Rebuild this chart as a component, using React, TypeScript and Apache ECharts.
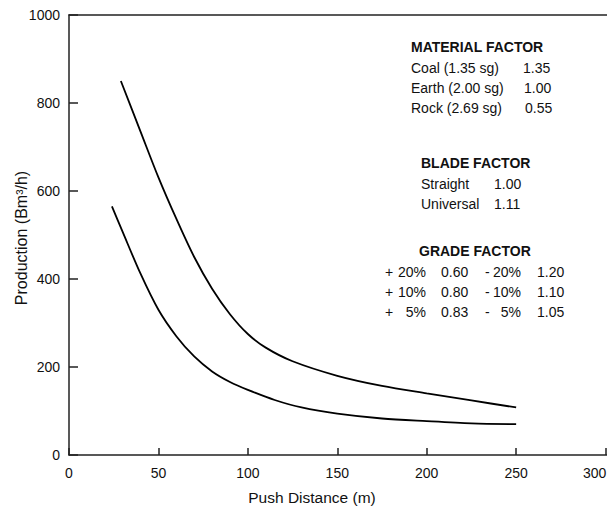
import React, { useEffect, useRef } from "react";
import * as echarts from "echarts";

const distance500 = [29, 40, 50, 60, 70, 80, 90, 100, 110, 125, 150, 175, 200, 225, 250];
const production500 = [850, 735, 631, 537, 450, 378, 320, 275, 244, 213, 180, 157, 140, 124, 108];
const distance300 = [24, 30, 40, 50, 60, 70, 80, 90, 100, 115, 130, 150, 175, 200, 225, 250];
const production300 = [565, 507, 412, 330, 270, 224, 190, 166, 148, 125, 108, 94, 83, 77, 72, 70];

const xTicks = [0, 50, 100, 150, 200, 250, 300];
const yTicks = [0, 200, 400, 600, 800, 1000];

const materialRows = [
  ["Coal (1.35 sg)", "1.35"],
  ["Earth (2.00 sg)", "1.00"],
  ["Rock (2.69 sg)", "0.55"],
];
const bladeRows = [
  ["Straight", "1.00"],
  ["Universal", "1.11"],
];
const gradeRows = [
  ["+", "20%", "0.60", "-", "20%", "1.20"],
  ["+", "10%", "0.80", "-", "10%", "1.10"],
  ["+", "5%", "0.83", "-", "5%", "1.05"],
];

const FONT = "'Liberation Sans', Arial, Helvetica, sans-serif";
const INK = "#111";

function makeData(xs: number[], ys: number[], label: string) {
  return xs.map((x, i) =>
    i === 0
      ? {
          value: [x, ys[i]],
          label: {
            show: true,
            position: "top",
            distance: 9,
            formatter: label,
            color: INK,
            fontFamily: FONT,
            fontSize: 14,
          },
        }
      : { value: [x, ys[i]] }
  );
}

function txt(text: string, x: number, y: number, opts: any = {}) {
  return {
    type: "text",
    x,
    y,
    rotation: opts.rotation || 0,
    silent: true,
    style: {
      text,
      fill: INK,
      font: `${opts.bold ? "bold " : ""}${opts.size || 14}px ${FONT}`,
      align: opts.align || "left",
      verticalAlign: "middle",
    },
  };
}

export default function App() {
  const ref = useRef<HTMLDivElement>(null);
  useEffect(() => {
    if (!ref.current) return;
    const chart = echarts.init(ref.current, undefined, { renderer: "svg" });

    const graphics: any[] = [];
    graphics.push(txt("MATERIAL FACTOR", 411, 47, { bold: true }));
    const matValX = [523, 524, 525];
    materialRows.forEach((r, i) => {
      graphics.push(txt(r[0], 411, 68 + i * 20));
      graphics.push(txt(r[1], matValX[i], 68 + i * 20));
    });
    graphics.push(txt("BLADE FACTOR", 421, 163, { bold: true }));
    bladeRows.forEach((r, i) => {
      graphics.push(txt(r[0], 421, 184 + i * 20));
      graphics.push(txt(r[1], 494, 184 + i * 20));
    });
    graphics.push(txt("GRADE FACTOR", 419, 251, { bold: true }));
    gradeRows.forEach((r, i) => {
      const y = 272 + i * 20;
      graphics.push(txt(r[0], 385, y));
      graphics.push(txt(r[1], 426, y, { align: "right" }));
      graphics.push(txt(r[2], 441, y));
      graphics.push(txt(r[3], 485, y));
      graphics.push(txt(r[4], 521, y, { align: "right" }));
      graphics.push(txt(r[5], 537, y));
    });
    graphics.push(txt("Push Distance (m)", 312, 497, { align: "center", size: 15.5 }));
    graphics.push(
      txt("Production (Bm³/h)", 21, 238, { align: "center", size: 16, rotation: Math.PI / 2 })
    );

    const lineStyle = { color: "#222", width: 1.5 };

    chart.setOption({
      animation: false,
      backgroundColor: "#fff",
      grid: {
        left: 69,
        top: 15,
        height: 440,
        width: 626,
        containLabel: false,
        outerBoundsMode: "none",
      },
      xAxis: [
        {
          type: "value",
          min: 0,
          max: 350,
          interval: 50,
          axisLine: { show: true, lineStyle },
          axisTick: { show: true, inside: true, length: 7, lineStyle },
          splitLine: { show: false },
          axisLabel: {
            color: INK,
            fontFamily: FONT,
            fontSize: 14,
            margin: 11,
            formatter: (v: number) =>
              v === 300 ? "{edge|300}" : xTicks.includes(v) ? String(v) : "",
            rich: {
              edge: {
                color: INK,
                fontFamily: FONT,
                fontSize: 14,
                padding: [0, 22, 0, 0],
              },
            },
          },
        },
        {
          type: "value",
          position: "top",
          min: 0,
          max: 350,
          axisLine: { show: true, lineStyle },
          axisTick: { show: false },
          axisLabel: { show: false },
          splitLine: { show: false },
        },
      ],
      yAxis: {
        type: "value",
        min: 0,
        max: 1000,
        interval: 200,
        axisLine: { show: true, lineStyle },
        axisTick: { show: true, inside: true, length: 9, lineStyle },
        splitLine: { show: false },
        axisLabel: {
          color: INK,
          fontFamily: FONT,
          fontSize: 14,
          margin: 9,
          formatter: (v: number) => (yTicks.includes(v) ? String(v) : ""),
        },
      },
      series: [
        {
          name: "500 kw",
          type: "line",
          smooth: 0.3,
          showSymbol: false,
          symbol: "none",
          lineStyle: { color: "#000", width: 1.8 },
          data: makeData(distance500, production500, "500 kw"),
        },
        {
          name: "300 kw",
          type: "line",
          smooth: 0.3,
          showSymbol: false,
          symbol: "none",
          lineStyle: { color: "#000", width: 1.8 },
          data: makeData(distance300, production300, "300 kw"),
        },
      ],
      graphic: graphics,
    });
    return () => chart.dispose();
  }, []);
  return (
    <div
      ref={ref}
      style={{ position: "fixed", left: 0, top: 0, width: 607, height: 508, background: "#fff" }}
    />
  );
}
